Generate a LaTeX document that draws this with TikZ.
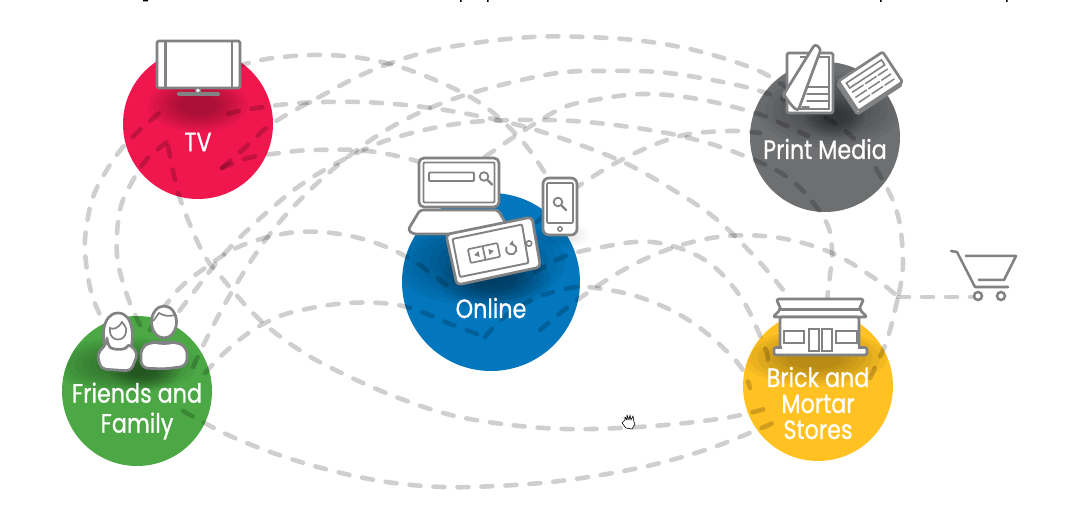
\documentclass[tikz,border=0pt]{standalone}
\usepackage{fontspec}
\newfontfamily\lab{Poppins}[FakeBold=0.7,FakeStretch=0.84]
\usetikzlibrary{shapes.geometric}
\definecolor{cTV}{HTML}{F0174F}
\definecolor{cON}{HTML}{0277BD}
\definecolor{cPR}{HTML}{6E6F71}
\definecolor{cBR}{HTML}{FFC222}
\definecolor{cFR}{HTML}{4BA844}
\definecolor{ico}{HTML}{818284}
\tikzset{
  spot/.style={circle,minimum size=#1,inner sep=0pt,draw=none},
  link/.style={draw=black,opacity=.19,line width=4.6pt,line cap=round,dash pattern=on 11pt off 13pt,smooth,tension=.6},
  icon/.style={draw=ico,line width=2.7pt,fill=white,line join=round,rounded corners=1.5pt},
  iline/.style={draw=ico,line width=1.6pt,line cap=round},
  lbl/.style={text=white,font=\lab\fontsize{26.5}{26}\selectfont,align=center,inner sep=0pt},
}
\newcommand{\blob}[4]{%
  \foreach \k in {1,.9,.8,.7,.6,.5,.4}{\fill[black,opacity=.045] (#1,#2) ellipse [x radius=\k*#3,y radius=\k*#4];}}
\begin{document}
\begin{tikzpicture}[x=1pt,y=-1pt]
\useasboundingbox (0,0) rectangle (1066,513);
\fill[white] (0,0) rectangle (1066,513);
% clipped heading descenders
\fill[black] (143,0) rectangle (148,1.5) (460,0) rectangle (461.5,2) (487,0) rectangle (488.5,2) (880,0) rectangle (881.5,2) (1006,0) rectangle (1007.5,2);
% circles
\node[spot=150pt,fill=cTV] (tv) at (198,124) {};
\node[spot=178pt,fill=cON] (online) at (491,282) {};
\node[spot=150pt,fill=cPR] (print) at (825,137) {};
\node[spot=150pt,fill=cBR] (brick) at (818,386) {};
\node[spot=150pt,fill=cFR] (friends) at (137,391) {};
% shadows
\begin{scope}\clip (198,124) circle (75pt); \blob{198}{105}{50}{27}\end{scope}
\begin{scope}\clip (491,282) circle (89pt); \blob{480}{262}{85}{45}\blob{495}{280}{55}{30}\end{scope}
\begin{scope}\clip (825,137) circle (75pt); \blob{830}{110}{72}{38}\blob{835}{118}{30}{20}\end{scope}
\begin{scope}\clip (818,386) circle (75pt); \blob{815}{358}{72}{28}\end{scope}
\begin{scope}\clip (137,391) circle (75pt); \blob{125}{365}{72}{28}\blob{145}{372}{35}{18}\end{scope}
% connector ends
\coordinate (tvA) at (222,168);
\coordinate (tvB) at (168,146);
\coordinate (tvC) at (228,114);
\coordinate (tvD) at (165,108);
\coordinate (tvE) at (175,136);
\coordinate (tvF) at (238,66);
\coordinate (frA) at (193,367);
\coordinate (frB) at (110,335);
\coordinate (frC) at (140,325);
\coordinate (frD) at (165,330);
\coordinate (frE) at (150,330);
\coordinate (frF) at (205,373);
\coordinate (frG) at (183,411);
\coordinate (onA) at (465,170);
\coordinate (onB) at (548,178);
\coordinate (onC) at (445,175);
\coordinate (onD) at (455,292);
\coordinate (onE) at (485,337);
\coordinate (onF) at (540,330);
\coordinate (onG) at (535,272);
\coordinate (onH) at (537,222);
\coordinate (prA) at (805,100);
\coordinate (prB) at (808,136);
\coordinate (prC) at (760,133);
\coordinate (brA) at (800,315);
\coordinate (brB) at (827,300);
\coordinate (brC) at (768,408);
\coordinate (brD) at (750,388);
\coordinate (brE) at (768,360);
\coordinate (brF) at (870,378);
\coordinate (brG) at (772,423);
\coordinate (cartIn) at (898,297);
\coordinate (cartEnd) at (975,297);
% connectors
\draw[link] plot coordinates {(tvA) (248,145) (273,123) (323,95) (368,72) (422,53) (475,43) (532,37) (587,37) (643,41) (698,51) (752,68) (780,83) (prA)};
\draw[link] plot coordinates {(frA) (215,322) (242,275) (273,230) (310,190) (353,153) (395,125) (445,102) (497,86) (557,73) (603,71) (658,72) (712,80) (763,92) (820,115) (850,135) (875,167) (897,212) (903,263) (cartIn)};
\draw[link] plot coordinates {(onA) (492,152) (517,135) (558,110) (588,101) (643,94) (698,99) (752,112) (778,122) (prB)};
\draw[link] plot coordinates {(frB) (92,295) (85,250) (88,217) (95,192) (108,168) (123,147) (142,128) (tvD)};
\draw[link] plot coordinates {(tvC) (250,109) (300,103) (360,102) (415,106) (468,114) (522,126) (572,142) (623,162) (670,188) (715,218) (755,257) (787,295) (brA)};
\draw[link] plot coordinates {(frC) (127,295) (117,255) (120,210) (132,182) (148,158) (tvE)};
\draw[link] plot coordinates {(tvF) (273,58) (328,55) (382,62) (435,80) (483,105) (523,142) (onB)};
\draw[link] plot coordinates {(tvB) (175,180) (183,207) (203,253) (222,278) (260,320) (304,353) (352,378) (404,400) (455,416) (511,425) (565,429) (620,428) (676,424) (731,417) (brC)};
\draw[link] plot coordinates {(tvA) (248,158) (280,153) (313,150) (368,151) (420,162) (onC)};
\draw[link] plot coordinates {(frD) (193,293) (225,253) (265,214) (308,180) (363,150) (408,134) (463,123) (518,120) (573,121) (630,127) (685,137) (737,153) (790,179) (825,220) (832,250) (830,275) (brB)};
\draw[link] plot coordinates {(frE) (175,293) (205,268) (243,245) (298,232) (355,237) (407,257) (onD)};
\draw[link] plot coordinates {(frF) (222,355) (243,337) (265,323) (293,312) (348,303) (403,306) (453,325) (onE)};
\draw[link] plot coordinates {(onE) (503,318) (532,300) (557,291) (587,287) (642,298) (693,323) (737,362) (brD)};
\draw[link] plot coordinates {(onF) (558,315) (580,298) (625,269) (675,247) (727,236) (780,238) (832,253) (877,280) (cartIn)};
\draw[link] plot coordinates {(onG) (563,257) (597,248) (652,242) (705,260) (742,299) (765,348) (brE)};
\draw[link] plot coordinates {(onH) (555,205) (580,185) (627,157) (680,136) (730,131) (prC)};
\draw[link] (cartIn) -- (cartEnd);
\draw[link] plot coordinates {(brF) (887,340) (cartIn)};
\draw[link] plot coordinates {(frG) (228,435) (279,455) (333,471) (387,482) (442,487) (496,486) (551,482) (607,474) (660,463) (714,447) (764,427) (brG)};
% TV icon
\draw[icon] (157,41) rectangle (240,88);
\draw[ico,line width=2.7pt] (165.5,41) -- (165.5,88) (232,41) -- (232,88);
\fill[ico,rounded corners=1.5pt] (177,92) rectangle (220,96);
\fill[ico] (195,88) rectangle (201,93);
\fill[white] (198,90.5) circle (1.8pt);
% laptop icon
\draw[icon,rounded corners=3pt] (420,210) -- (498,210) -- (505,222) -- (508,234) -- (413,234) -- (408,230) -- cycle;
\draw[icon,rounded corners=5pt] (419,158) rectangle (499,207);
\draw[draw=ico,line width=1.9pt,rounded corners=1pt] (423.5,162.5) rectangle (494.5,202.5);
\draw[draw=ico,line width=1.9pt,rounded corners=1pt] (429,172.5) rectangle (474,181);
\draw[ico,line width=1.8pt] (484,176.5) circle (4.3pt);
\draw[ico,line width=2.2pt,line cap=round] (487.5,180) -- (492,184.5);
% tablet icon
\draw[icon,rounded corners=4pt] (446,234.5) -- (532,217) -- (540.5,267) -- (457,285) -- cycle;
\draw[draw=ico,line width=1.9pt,rounded corners=1pt] (452.5,239) -- (522,224.5) -- (528.5,263) -- (460,277) -- cycle;
\draw[ico,line width=1.6pt] (529,243.5) circle (2.7pt);
\begin{scope}[shift={(484,253)},rotate=12]
  \draw[draw=ico,line width=1.7pt,rounded corners=1pt] (-15,-7) rectangle (15,7);
  \draw[ico,line width=1.7pt] (0,-7) -- (0,7);
  \fill[ico] (-10,0) -- (-5,-3) -- (-5,3) -- cycle;
  \fill[ico] (10,0) -- (5,-3) -- (5,3) -- cycle;
  \draw[ico,line width=1.8pt] (30,-2.5) arc [start angle=60,end angle=-220,radius=5.2pt];
  \fill[ico] (30.5,-6.5) -- (31,-0.5) -- (26.5,-3) -- cycle;
\end{scope}
% phone icon
\begin{scope}\clip (530,225) rectangle (600,255); \foreach \k in {1,.85,.7,.55}{\fill[black,opacity=.02] (561,235) ellipse [x radius=\k*28,y radius=\k*13];}\end{scope}
\draw[icon,rounded corners=6pt] (543,178) rectangle (577,235);
\draw[draw=ico,line width=1.7pt,rounded corners=1pt] (547,183) rectangle (573,223);
\draw[ico,line width=1.8pt] (558,202) circle (4.3pt);
\draw[ico,line width=2.2pt,line cap=round] (561.5,205.5) -- (566,210);
\draw[ico,line width=1.5pt] (560,229) circle (2.2pt);
% print media icon
\draw[icon] (787,53) rectangle (833,113);
\draw[draw=ico,line width=1.7pt] (800,57) -- (829,57) -- (829,109) -- (798,109);
\foreach \yy in {87,94,101}{\draw[iline] (807,\yy) -- (829,\yy);}
\draw[iline] (802,107) -- (809,107);
\draw[icon,rounded corners=3pt] (815,44) -- (821,49) -- (798,111) -- (792,106) -- (784,95) -- (784,94) -- cycle;
\begin{scope}[shift={(870.5,81.5)},rotate=33.4]
  \draw[icon] (-29,-16) rectangle (24,20);
  \draw[icon] (-26.5,-18) rectangle (26.5,18);
  \draw[draw=ico,line width=1.6pt] (-21,-12) rectangle (21,-6);
  \foreach \yy in {-1,5,11}{\draw[iline,line width=1.5pt,dash pattern=on 13pt off 2.5pt] (-21,\yy) -- (21,\yy);}
\end{scope}
% store icon
\draw[icon,rounded corners=2pt] (777,299) -- (863,299) -- (863,303) -- (860,305) -- (860,310) -- (867,317) -- (773,317) -- (780,310) -- (780,305) -- (777,303) -- cycle;
\draw[ico,line width=2.7pt] (780,309.5) -- (860,309.5);
\draw[icon] (780,317) rectangle (859,348);
\draw[icon,rounded corners=2pt] (774,347.5) rectangle (867,355);
\fill[white] (781.5,345) rectangle (857.5,350);
\draw[draw=ico,line width=2.2pt] (784,331) rectangle (804,343);
\draw[draw=ico,line width=2.2pt] (836,331) rectangle (857,343);
\draw[draw=ico,line width=2.2pt] (809,329) rectangle (819,351);
\draw[draw=ico,line width=2.2pt] (822,329) rectangle (832,351);
% cart icon
\draw[ico,line width=2.5pt,line cap=round,line join=round] (951,251) -- (957,252) -- (975,287) -- (1008,287);
\draw[ico,line width=2.5pt,line join=round] (965,256) -- (1016,256) -- (1004,280) -- (978,280);
\draw[ico,line width=2.5pt,fill=white] (978,296) circle (4pt);
\draw[ico,line width=2.5pt,fill=white] (1001,296) circle (4pt);
% people icons
\draw[draw=ico,line width=2.7pt,fill=white] (108,354) .. controls (100,340) and (102,313) .. (118,313) .. controls (134,313) and (135,340) .. (129,354) -- cycle;
\draw[draw=ico,line width=1.7pt] (110,328) .. controls (113,330) and (119,328) .. (122,322) .. controls (125,326) and (127,328) .. (126,332) .. controls (125,342) and (111,342) .. (110,332) -- cycle;
\draw[icon,rounded corners=5pt] (107,343) -- (97,354) -- (101,369) -- (131,371) -- (138,353) -- (128,343) .. controls (125,350) and (112,350) .. (107,343) -- cycle;
\draw[icon,rounded corners=7pt] (141,368) -- (141,347) -- (152,342) -- (176,342) -- (187,347) -- (187,366) -- (165,369) -- cycle;
\draw[icon] (164,322) ellipse [x radius=12.5pt,y radius=16pt];
\draw[draw=ico,line width=1.7pt] (153,321) .. controls (156,318) and (157,315) .. (159,313) .. controls (165,317) and (171,316) .. (175,315);
\draw[draw=ico,line width=1.7pt] (152,341) .. controls (156,345) and (172,345) .. (176,341);
% labels
\node[lbl] (tvLabel) at (198,142) {TV};
\node[lbl] (onlineLabel) at (491,308) {Online};
\node[lbl] (printLabel) at (825,149) {Print Media};
\node[lbl] (brickLabel) at (818,403) {Brick and\\Mortar\\Stores};
\node[lbl,font=\lab\fontsize{26.5}{30}\selectfont] (friendsLabel) at (137,411) {Friends and\\Family};
% hand cursor
\draw[black,fill=white,line width=.6pt,line join=round] (622,423) -- (625,420) -- (625,417) -- (627,420) -- (627,415) -- (629,420) -- (630,415) -- (631,420) -- (633,416) -- (634,422) -- (635,424) -- (632,429) -- (626,428) -- cycle;
\end{tikzpicture}
\end{document}
